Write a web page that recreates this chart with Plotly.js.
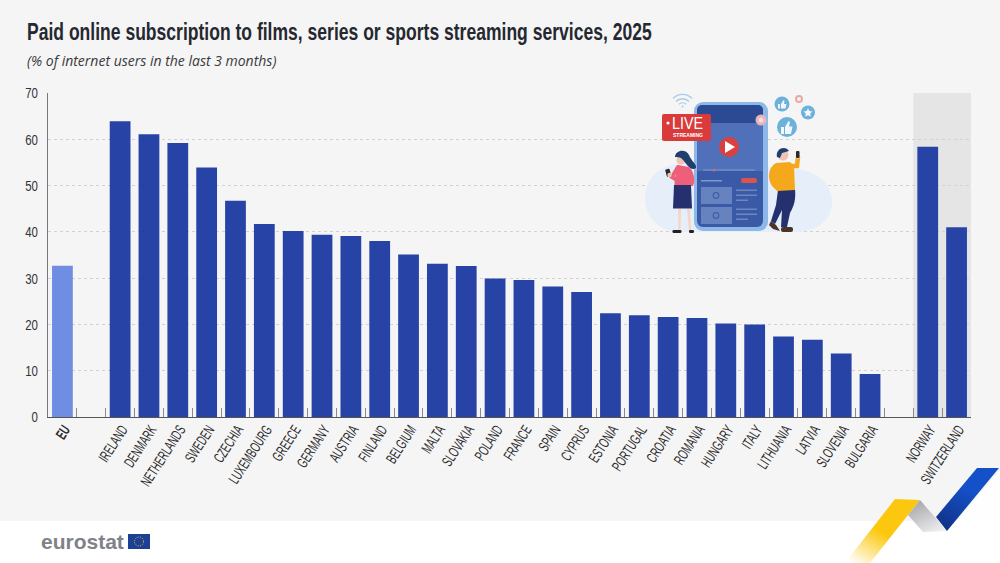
<!DOCTYPE html>
<html><head><meta charset="utf-8">
<script src="https://cdn.plot.ly/plotly-3.0.1.min.js"></script>
<style>
html,body{margin:0;padding:0;background:#fff;width:1000px;height:563px;overflow:hidden}
#stage{position:relative;width:1000px;height:563px}
#bg{position:absolute;left:0;top:0;width:1000px;height:521px;background:#f5f5f6}
#chart{position:absolute;left:0;top:0;width:1000px;height:563px}
svg.deco{position:absolute;left:0;top:0;pointer-events:none}
</style></head><body>
<div id="stage"><div id="bg"></div><div id="chart"></div>
<svg class="deco" width="1000" height="563" viewBox="0 0 1000 563" xmlns="http://www.w3.org/2000/svg">
<defs>
<linearGradient id="yel" x1="0.8" y1="0" x2="0.1" y2="1"><stop offset="0.5" stop-color="#fcc80f"/><stop offset="1" stop-color="#fcc80f" stop-opacity="0"/></linearGradient>
<linearGradient id="gry" x1="0.2" y1="0" x2="0.8" y2="1"><stop offset="0" stop-color="#a5a5a9"/><stop offset="1" stop-color="#f0f0f1"/></linearGradient>
<linearGradient id="blu" x1="0.85" y1="0" x2="0.25" y2="1"><stop offset="0.4" stop-color="#1450c8"/><stop offset="1" stop-color="#12338a"/></linearGradient>
</defs>
<polygon points="948,531 1000,470 1000,521 990,531" fill="#fff" opacity="0.85"/>
<polygon points="895,499 920,500 908,515 870,563 845,563" fill="url(#yel)"/>
<polygon points="920,500 947,531 923,532 908,515" fill="url(#gry)"/>
<polygon points="977,468 999,468 947,531 936,517" fill="url(#blu)"/>
<!-- illustration -->
<path d="M645,198 C645,178 660,165 682,163 L790,168 C815,170 832,182 832,202 C832,222 815,232 795,232 L680,232 C660,232 645,218 645,198Z" fill="#e6eff9"/>
<rect x="694" y="102" width="74" height="129" rx="9" fill="#8db8e8"/>
<rect x="697" y="105" width="66" height="122" rx="6" fill="#3a59a6"/>
<rect x="697" y="105" width="66" height="18" rx="5" fill="#2c4a94"/>
<rect x="697" y="118" width="66" height="5" fill="#2c4a94"/>
<rect x="697" y="123" width="66" height="48" fill="#5071ba"/>
<circle cx="729" cy="147" r="10" fill="#d9403f"/><polygon points="725,141 725,153 735,147" fill="#fff"/>
<rect x="703" y="169.500" width="52" height="1" fill="#7f99cf"/><circle cx="714" cy="170" r="1.500" fill="#c96a78"/>
<rect x="701" y="180" width="21" height="1.500" fill="#7f99cf"/><rect x="741" y="178" width="16" height="5" rx="2" fill="#d9534f"/>
<rect x="701" y="187" width="31" height="17" fill="#6783bf"/><rect x="701" y="207" width="31" height="17" fill="#6783bf"/>
<circle cx="716" cy="195.500" r="2.800" fill="none" stroke="#3f5ea8" stroke-width="1.200"/><circle cx="716" cy="215.500" r="2.800" fill="none" stroke="#3f5ea8" stroke-width="1.200"/>
<g fill="#6d87c1"><rect x="736" y="189.500" width="21" height="1.500"/><rect x="736" y="194.500" width="21" height="1.500"/><rect x="736" y="199.500" width="12" height="1.500"/>
<rect x="736" y="208.500" width="21" height="1.500"/><rect x="736" y="213.500" width="21" height="1.500"/><rect x="736" y="218.500" width="12" height="1.500"/></g>
<circle cx="761" cy="120" r="5.500" fill="#e9b4b8"/><circle cx="761" cy="120" r="2.500" fill="#f6dcdc"/>
<g fill="#6cb1dc"><circle cx="782" cy="104" r="7.500"/><circle cx="787" cy="127" r="10"/><circle cx="808" cy="112.500" r="7"/></g>
<circle cx="799" cy="99" r="3" fill="none" stroke="#e9a9a5" stroke-width="2"/>
<g fill="#f1f7fc"><path d="M778,104h2v4.500h-2zM781,104l2.500,-4l1,1l-.5,3h2.500l-1,4.500h-4.500z"/><path d="M781,127h3v7h-3zM785,127l3.500,-6l1.500,1l-1,4.500h3.500l-1.500,7.500h-6z"/>
<polygon points="808,108 809.300,111 812.500,111.400 810.200,113.500 810.800,116.800 808,115.200 805.200,116.800 805.800,113.500 803.500,111.400 806.700,111"/></g>
<g fill="none" stroke="#a9cbe8" stroke-width="1.400"><path d="M673,98.500A13,13 0 0 1 692,98.500"/><path d="M676,101.500A9,9 0 0 1 689,101.500"/><path d="M679,104.300A5,5 0 0 1 686,104.300"/></g><circle cx="682.500" cy="106.500" r="1" fill="#a9cbe8"/>
<rect x="662" y="114" width="49" height="27" rx="2" fill="#d93b3a"/>
<circle cx="668" cy="123" r="1.600" fill="#fff"/>
<text x="672" y="129" font-family="Liberation Sans" font-size="16" fill="#fff" textLength="31" lengthAdjust="spacingAndGlyphs">LIVE</text>
<text x="673" y="137" font-family="Liberation Sans" font-size="5.500" font-weight="bold" fill="#fff" textLength="30" lengthAdjust="spacingAndGlyphs">STREAMING</text>
<!-- woman -->
<path d="M678,209l3,0l-.5,22l-2,0zM687,209l3,0l1,22l-2,0z" fill="#f4d5c6"/>
<rect x="672.500" y="230" width="9" height="3" rx="1.200" fill="#222"/><rect x="689" y="230" width="5" height="3" rx="1.200" fill="#222"/>
<circle cx="681" cy="160" r="4.500" fill="#f0c3b4"/>
<path d="M675,157 C675,150 686,148 689,155 C691,160 694,162 696,166 C697,169 693,170 690,168 C686,165 685,161 681,158 C679,157 677,157 675,157Z" fill="#1f3f6e"/>
<path d="M678,165 L689,167 C695,172 695,182 693,186 L690,186 L691,190 L674,190 L675,178Z" fill="#ee5f7a"/>
<path d="M678,167 L672,177 L682,183" fill="none" stroke="#ee5f7a" stroke-width="4" stroke-linecap="round"/>
<path d="M674,185 L691,185 L692,208.500 L673,208.500Z" fill="#27306f"/>
<rect x="666" y="169" width="4.500" height="7.500" rx="1" fill="#2a2a2a" transform="rotate(-15 668 173)"/><circle cx="669.500" cy="175" r="2.200" fill="#f0c3b4"/>
<!-- man -->
<path d="M778,190 L795,189 C796,200 794,206 790,213 L787,227 L781,227 L782,210 L775,224 L771,221 L776,205Z" fill="#25306e"/>
<path d="M771,221 L776,225 L780,231 L773,229 L769,225Z" fill="#4a3328"/><rect x="781" y="227" width="12" height="5" rx="2" fill="#4a3328"/>
<circle cx="783" cy="155" r="5.500" fill="#f0c3b4"/><path d="M777,157 C775,148 786,145 789,151 L782,153 L780,158Z" fill="#1f3f6e"/>
<path d="M776,163 L790,162 L794,166 L795,190 L777,191 L772,186 C767,178 768,168 776,163Z" fill="#f5a81c"/>
<path d="M790,166 L797,166 L798,157" fill="none" stroke="#f5a81c" stroke-width="4.500" stroke-linecap="round"/>
<circle cx="798" cy="157" r="2" fill="#f0c3b4"/><rect x="796" y="151" width="3.500" height="7" rx="1" fill="#2a2a2a"/>
</svg>
</div>
<script>
const categories=['<b>EU</b>',' ','IRELAND','DENMARK','NETHERLANDS','SWEDEN','CZECHIA','LUXEMBOURG','GREECE','GERMANY','AUSTRIA','FINLAND','BELGIUM','MALTA','SLOVAKIA','POLAND','FRANCE','SPAIN','CYPRUS','ESTONIA','PORTUGAL','CROATIA','ROMANIA','HUNGARY','ITALY','LITHUANIA','LATVIA','SLOVENIA','BULGARIA','  ','NORWAY','SWITZERLAND'];
const values=[32.7,null,63.9,61.1,59.2,53.9,46.7,41.7,40.2,39.4,39.1,38,35.1,33.1,32.6,29.9,29.6,28.2,27,22.4,22,21.6,21.4,20.2,20,17.4,16.7,13.7,9.3,null,58.4,41];
const barColors=categories.map(c=>c==='<b>EU</b>'?'#6f8ee3':'#2743a5');
const yTicks=[0,10,20,30,40,50,60,70];
const titleText='Paid online subscription to films, series or sports streaming services, 2025';
const subtitleText='(% of internet users in the last 3 months)';
const sans='"Liberation Sans",sans-serif';
const L=47.5,T=93,W=924,H=324;
const px=x=>(x-L)/W, py=y=>(T+H-y)/H;
Plotly.newPlot('chart',[{type:'bar',x:categories,y:values,width:0.72,marker:{color:barColors,line:{width:0}},hoverinfo:'x+y'}],{
 width:1000,height:563,autosize:false,showlegend:false,
 margin:{l:L,r:1000-L-W,t:T,b:563-T-H,pad:0},
 paper_bgcolor:'rgba(0,0,0,0)',plot_bgcolor:'rgba(0,0,0,0)',
 font:{family:sans,color:'#333'},
 title:{text:'<b>'+titleText+'</b>',font:{family:sans,size:24.5,color:'#25282f'},x:27/1000,xanchor:'left',xref:'container',y:1-31/563,yanchor:'middle'},
 xaxis:{type:'category',categories:categories,categoryorder:'array',categoryarray:categories,range:[-0.5,31.5],tickson:'boundaries',ticks:'inside',ticklen:9,tickwidth:1,tickcolor:'#8a8a8a',tickangle:-57,tickfont:{family:sans,size:15,color:'#2b2b2b'},showline:true,linecolor:'#555',linewidth:1,showgrid:false,fixedrange:true,automargin:false},
 yaxis:{range:[0,70],tickvals:yTicks,ticktext:yTicks.map(String),ticks:'',tickfont:{family:sans,size:15.5,color:'#333'},showgrid:true,gridcolor:'#d2d2d2',griddash:'dot',gridwidth:1,showline:true,linecolor:'#777',linewidth:1,zeroline:false,fixedrange:true,automargin:false},
 shapes:[
  {type:'rect',layer:'below',xref:'x',yref:'y',x0:29.5,x1:31.5,y0:0,y1:70,fillcolor:'#e5e5e5',line:{width:0}}
 ],
 annotations:[
  {xref:'paper',yref:'paper',x:px(24),y:py(60),xanchor:'left',yanchor:'middle',showarrow:false,text:'<i>'+subtitleText+'</i>',font:{family:'"Open Sans",sans-serif',size:14,color:'#3a3a3a'}},
  {xref:'paper',yref:'paper',x:px(38),y:py(541),xanchor:'left',yanchor:'middle',showarrow:false,text:'<b>eurostat</b>',font:{family:sans,size:21,color:'#808288'}}
 ]
},{staticPlot:true,displayModeBar:false}).then(()=>{
 const condense=(t,sx,dx,dy)=>{
  const x=+t.getAttribute('x')||0,y=+t.getAttribute('y')||0,old=t.getAttribute('transform')||'';
  t.setAttribute('transform',`translate(${dx},${dy}) ${old} translate(${x},${y}) scale(${sx},1) translate(${-x},${-y})`);
 };
 document.querySelectorAll('.xtick text').forEach(t=>condense(t,0.62,2,-3));
 document.querySelectorAll('.ytick text').forEach(t=>condense(t,0.74,-6,0));
 const tt=document.querySelector('.gtitle');
 const len=tt.getComputedTextLength();
 const x=+tt.getAttribute('x'),y=+tt.getAttribute('y');
 tt.setAttribute('transform',`translate(${x},${y}) scale(${625/len},1) translate(${-x},${-y})`);
});
</script>
<svg class="deco" style="z-index:5" width="1000" height="563" viewBox="0 0 1000 563" xmlns="http://www.w3.org/2000/svg">
<rect x="128" y="534" width="22" height="15" fill="#1d3f94"/>
<circle cx="139" cy="541.500" r="4.500" fill="none" stroke="#f2cf2a" stroke-width="1" stroke-dasharray="1 1.400"/>
</svg>
</body></html>
